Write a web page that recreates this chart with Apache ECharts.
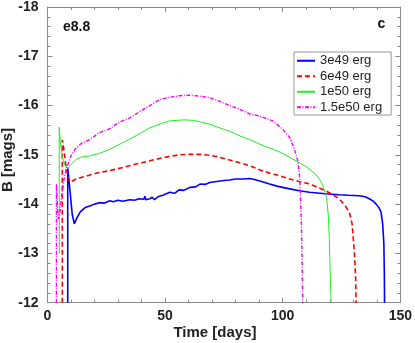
<!DOCTYPE html>
<html>
<head>
<meta charset="utf-8">
<script src="https://cdn.jsdelivr.net/npm/echarts@6/dist/echarts.min.js"></script>
<style>
html,body{margin:0;padding:0;background:#fff;}
#chart{width:415px;height:343px;}
</style>
</head>
<body>
<div id="chart"></div>
<script>
var seriesNames = ['3e49 erg', '6e49 erg', '1e50 erg', '1.5e50 erg'];
var xTicks = [0, 50, 100, 150];
var yTicks = [-18, -17, -16, -15, -14, -13, -12];

var blueData = [[8.6,-12],[8.6,-14.74],[9.5,-14.3],[10.5,-13.8],[11.4,-13.6],[12.5,-13.72],[14,-13.85],[16,-13.93],[18,-13.96],[20,-14.0],[22,-14.03],[24,-14.02],[26.5,-14.07],[28,-14.05],[30,-14.08],[32,-14.06],[35,-14.09],[37,-14.08],[39,-14.11],[41,-14.1],[41.4,-14.16],[41.8,-14.09],[43.5,-14.11],[44.5,-14.14],[45.5,-14.09],[47,-14.15],[49,-14.18],[52,-14.24],[54,-14.22],[56,-14.29],[58,-14.28],[60.5,-14.34],[63,-14.35],[65,-14.41],[67,-14.40],[69,-14.44],[72,-14.46],[75,-14.48],[77.4,-14.49],[80,-14.51],[83,-14.51],[86,-14.52],[88,-14.5],[91,-14.46],[94.4,-14.41],[98,-14.36],[103,-14.31],[107,-14.27],[111.4,-14.24],[118,-14.21],[124,-14.19],[128,-14.18],[132.6,-14.17],[135,-14.15],[136.8,-14.11],[138.5,-14.06],[139.7,-14.0],[141,-13.92],[141.8,-13.84],[142.5,-13.6],[143,-13.2],[143.2,-12.6],[143.3,-12]];

var redData = [[6.3,-12],[6.3,-15.3],[7,-15.1],[8,-14.7],[9.5,-14.44],[11.7,-14.5],[15,-14.55],[18,-14.59],[22,-14.64],[26.5,-14.68],[30,-14.72],[35,-14.78],[40,-14.84],[43.5,-14.88],[48,-14.93],[52,-14.97],[56,-15.0],[60.5,-15.01],[64.7,-15.01],[69,-14.99],[73.2,-14.95],[77,-14.9],[81.7,-14.84],[86,-14.78],[90,-14.7],[95,-14.62],[98.6,-14.58],[103,-14.51],[107,-14.46],[111.4,-14.41],[118.4,-14.27],[124,-14.11],[126.5,-13.97],[128.3,-13.84],[129.5,-13.6],[130.5,-13.0],[131,-12.5],[131.2,-12]];

var greenData = [[5.0,-13.0],[5.0,-15.56],[5.5,-15.25],[6.3,-14.95],[7.5,-14.78],[8.6,-14.72],[10,-14.8],[12,-14.9],[14,-14.95],[18,-14.98],[22,-15.03],[26.5,-15.11],[30,-15.2],[35,-15.32],[40,-15.45],[43.5,-15.55],[48,-15.63],[52,-15.69],[58,-15.71],[62,-15.7],[65,-15.67],[69,-15.62],[73,-15.55],[78,-15.47],[82,-15.38],[86,-15.31],[90,-15.22],[95,-15.13],[99,-15.05],[103,-14.95],[107,-14.84],[110,-14.76],[114,-14.61],[116,-14.48],[117,-14.38],[118,-14.24],[118.7,-14.11],[119.4,-13.77],[119.8,-13.3],[120.2,-12.6],[120.6,-12]];

var magentaData = [[3.8,-12],[3.8,-14.41],[4.2,-14.0],[4.6,-13.7],[5.2,-13.8],[6,-14.15],[7,-14.5],[8,-14.72],[9,-14.85],[10,-14.98],[12,-15.13],[14,-15.22],[16,-15.27],[18,-15.31],[20,-15.38],[22,-15.45],[26.5,-15.53],[30,-15.65],[35,-15.75],[40,-15.9],[43.5,-16.0],[47.7,-16.12],[52,-16.17],[56,-16.2],[60.5,-16.21],[65,-16.19],[69,-16.16],[73,-16.09],[77.4,-16.0],[82,-15.92],[86,-15.83],[90,-15.79],[95.8,-15.69],[100,-15.52],[103,-15.35],[105,-15.11],[106.4,-14.88],[107.1,-14.6],[107.5,-14.2],[108,-13.5],[108.5,-12]];

var FONT = 'Liberation Sans, Arial, Helvetica, sans-serif';
var AXC = '#8a8a8a';

function xAx(pos, showLabel) {
  return {
    type: 'value', position: pos, min: 0, max: 150, interval: 50,
    axisLine: {show: true, onZero: false, lineStyle: {color: AXC, width: 1}},
    axisTick: {show: true, inside: true, length: 5, lineStyle: {color: AXC}},
    minorTick: {show: true, splitNumber: 5, length: 3, lineStyle: {color: AXC}},
    splitLine: {show: false},
    axisLabel: {show: showLabel, color: '#222', fontFamily: FONT, fontWeight: 'bold', fontSize: 14, margin: 6,
      formatter: function (v) { return xTicks.indexOf(v) >= 0 ? String(v) : ''; }}
  };
}
function yAx(pos, showLabel) {
  return {
    type: 'value', position: pos, min: -18, max: -12, interval: 1, inverse: true,
    axisLine: {show: true, onZero: false, lineStyle: {color: AXC, width: 1}},
    axisTick: {show: true, inside: true, length: 5, lineStyle: {color: AXC}},
    minorTick: {show: true, splitNumber: 5, length: 3, lineStyle: {color: AXC}},
    splitLine: {show: false},
    axisLabel: {show: showLabel, color: '#222', fontFamily: FONT, fontWeight: 'bold', fontSize: 14, margin: 9,
      formatter: function (v) { return yTicks.indexOf(v) >= 0 ? String(v) : ''; }}
  };
}

function line(name, data, color, width, type) {
  return {
    name: name, type: 'line', data: data, xAxisIndex: 0, yAxisIndex: 0,
    symbol: 'none', showSymbol: false, smooth: false, animation: false,
    lineStyle: {color: color, width: width, type: type},
    itemStyle: {color: color}
  };
}

var chart = echarts.init(document.getElementById('chart'), null, {renderer: 'canvas'});
chart.setOption({
  animation: false,
  backgroundColor: '#fff',
  grid: {left: 47.5, right: 14, top: 5.3, bottom: 40.3, containLabel: false},
  xAxis: [xAx('bottom', true), xAx('top', false)],
  yAxis: [yAx('left', true), yAx('right', false)],
  legend: {
    show: true, orient: 'vertical', left: 294, top: 52,
    data: seriesNames,
    backgroundColor: '#fff', borderColor: '#999', borderWidth: 1,
    padding: [1, 9, 0, 2], itemGap: 0, itemWidth: 18, itemHeight: 10,
    itemStyle: {opacity: 0, borderWidth: 0},
    textStyle: {fontFamily: FONT, fontSize: 13, color: '#222', lineHeight: 15.5}
  },
  series: [
    line(seriesNames[0], blueData, '#0000ff', 1.6, 'solid'),
    line(seriesNames[1], redData, '#ff0000', 1.6, [5, 3]),
    line(seriesNames[2], greenData, '#22ee22', 1, 'solid'),
    line(seriesNames[3], magentaData, '#ff00ff', 1.4, [4, 1.5, 1, 1.5])
  ],
  graphic: [
    {type: 'text', x: 63, y: 27, style: {text: 'e8.8', fill: '#111', font: 'bold 14px ' + FONT, textVerticalAlign: 'middle'}},
    {type: 'text', x: 377.5, y: 24, style: {text: 'c', fill: '#111', font: 'bold 14px ' + FONT, textVerticalAlign: 'middle'}},
    {type: 'text', x: 215, y: 333, style: {text: 'Time [days]', fill: '#222', font: 'bold 15px ' + FONT, textAlign: 'center', textVerticalAlign: 'middle'}},
    {type: 'text', x: 8, y: 160, rotation: Math.PI / 2, style: {text: 'B [mags]', fill: '#222', font: 'bold 15px ' + FONT, textAlign: 'center', textVerticalAlign: 'middle'}}
  ]
});
</script>
</body>
</html>
